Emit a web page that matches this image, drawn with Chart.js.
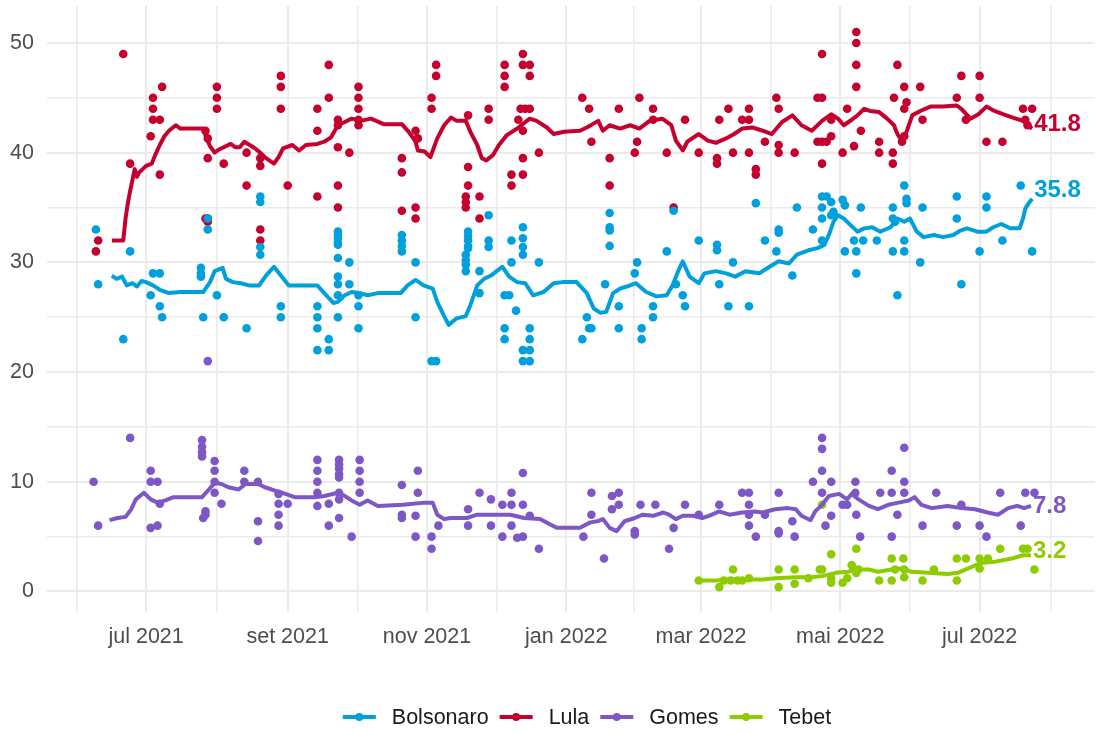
<!DOCTYPE html>
<html>
<head>
<meta charset="utf-8">
<script src="https://cdn.jsdelivr.net/npm/chart.js@4.4.0/dist/chart.umd.min.js"></script>
<style>
html,body{margin:0;padding:0;background:#ffffff;}
#wrap{width:1099px;height:733px;}
</style>
</head>
<body>
<div id="wrap"><canvas id="c" width="1099" height="733"></canvas></div>
<script>
// ---------------- DATA ----------------
// x values are days after DAY0
const DAY0 = '2021-07-01';
const seriesNames = ['Bolsonaro', 'Lula', 'Gomes', 'Tebet'];

const majorBreakDates = ['2021-07-01','2021-09-01','2021-11-01','2022-01-01','2022-03-01','2022-05-01','2022-07-01'];
const majorBreakLabels = ['jul 2021','set 2021','nov 2021','jan 2022','mar 2022','mai 2022','jul 2022'];
const outerBreakDates = ['2021-05-01','2022-09-01'];
const yTickValues = [0,5,10,15,20,25,30,35,40,45,50];
const yLabelValues = [0,10,20,30,40,50];

// individual polls: [day, value]
const bolsonaroPolls = [
[-22,33],[-21,28],[-10,23],[-7,31],[3,29],[6,29],[2,27],[6,26],[7,25],[25,25],[24,29.5],[24,29],[24,28.7],[27,34],[27,33],[31,27],[34,25],[44,24],[50,36],[50,35.5],[50,31.4],[50,30.7],[59,26],[59,25],[75,26],[75,25],[75,24],[75,22],[80,23],[80,22],
[84,32.8],[84,32.5],[84,32.2],[84,31.8],[84,31.6],[84,30.4],[84,28.7],[84,28],[84,27],[84,25],[89,30],[89,28],[93,27],[93,26],[93,24],
[112,32.5],[112,32],[112,31.5],[112,31],[118,30],[118,25],[125,21],[127,21],
[141,32.8],[141,32.4],[141,32],[141,31.5],[141,31.3],[140,30.7],[140,30.2],[140,29.8],[140,29.2],[146,29.2],[146,27.2],[150,34.3],[150,32],[150,31.4],[157,27],[159,27],[160,32],[162,25.6],[165,33.2],[165,32.2],[165,31.4],[165,30.7],[160,30],[157,24],[157,23],[168,24],[168,23],[168,22],[168,21],[165,22],[165,21],[172,30],[191,23],[193,25],
[194,24],[195,24],[201,28],[203,34.5],[203,33.2],[203,32.9],[203,31.5],[207,26],[207,24],[214,29],[215,30],[217,24],[217,23],[222,26],[222,25],[228,31],[231,34.7],[232,28],[235,27],[236,26],[242,32],
[250,31.6],[250,31.1],[251,28],[255,26],[257,30],[264,26],[267,35.4],[271,32],[276,31],[277,33],[277,32.7],[283,28.8],[285,35],[292,33],[296,36],[298,36],[296,35],[296,34],[296,32],[300,35.5],[301,34.6],[305,35.7],
[300,34.3],[306,35.2],[306,31],[311,31],[310,32],[311,29],[313,35],[314,32],[320,32],[327,35],[327,34],[328,33.7],[327,31],[329,27],[332,37],[333,35.8],[333,35.4],[332,32],[332,31],[339,30],[340,35],[355,34],[355,36],[357,28],[365,31],[368,36],[368,35],[375,32],[383,37],[388,31]
];
const lulaPolls = [
[-22,31],[-21,32],[-10,49],[-7,39],[2,41.5],[3,45],[3,44],[3,43],[6,43],[7,46],[6,38],
[26,34],[27,34],[27,33.7],[26,42],[27,41.3],[27,39.5],[31,46],[31,45],[31,44],[34,39],
[44,40],[44,37],[50,39.5],[50,38.8],[50,33],[50,32],[59,47],[59,46],[59,44],[62,37],
[75,44],[75,42],[75,36],[80,48],[80,45],
[84,43],[84,42.5],[84,40.5],[84,37],[84,35],[89,40],[93,46],[93,45],[93,44],[93,43],[93,42.5],
[112,39.5],[112,38.2],[112,34.7],[118,35],[118,34],[118,42],[119,41.3],[125,45],[125,44],[127,48],[127,47],
[141,43.4],[141,38.7],[141,37],[140,36],[140,35.5],[140,35],[146,36],[146,34],[150,44],[150,43],
[157,48],[157,47],[157,46],[160,38],[160,37],[165,49],[165,48],[168,48],[168,47],[164,44],[166,44],[168,44],[163,43],[165,42],[165,39.5],[165,38],[172,40],[191,45],
[194,44],[195,41],[203,39.5],[203,37],[207,44],[216,45],[215,41],[214,40],[222,44],[222,43],[228,40],[231,35],[236,43],[242,40],
[250,39.5],[250,39],[251,43],[255,44],[257,40],[261,43],[264,44],[264,43],[264,40],[267,38.5],[267,38],[271,41],[276,45],[277,44],[277,40.7],[277,40],[284,40],
[294,45],[296,45],[296,49],[294,41],[296,41],[298,41],[300,41.5],[296,39],[300,43],[305,40],
[311,51],[311,50],[311,48],[311,46],[307,44],[310,40.6],[313,42],[321,41],[321,40],[327,40],[327,39],[327.5,45],[329,48],[332,46],[333,44.6],[332,44],[331,41],[332,41.5],[339,46],[340,43],
[357,47],[355,45],[359,43],[365,47],[365,45],[368,41],[375,41],[384,44],[388,44],[385,43],[386,42.5]
];
const gomesPolls = [
[-23,10],[-21,6],[-7,14],[2,11],[2,10],[5,10],[2,5.8],[5,6],[6,8],[24.5,13.8],[24.5,13.2],[24.5,12.7],[24.5,12.3],[26,7.3],[25,6.7],[26,7],[27,21],[30,11.9],[30,11],[30,10],[30,9],[33,8],[43,11],[43,10],[49,10],[49,6.4],[49,4.6],[58,8.9],[58,8],[58,7],[58,6],[62,8],[75,12],[75,11],[75,10],[75,9],[75,7.8],[80,8],[80,6],[84.5,12],[84.5,11.6],[84.5,11.2],[84.5,10.7],[84.5,10.4],[84.5,9],[84.5,8.4],[84.5,6.7],[90,5],[93.5,12],[93.5,11],[93.5,10],[93.5,9],
[112,9.7],[112,7],[112,6.7],[119,11],[119,9],[118,6.9],[118,5],[125,5],[125,3.9],[128,6],[141,7.5],[141,6],[146,9],[151,8.4],[151,6],[156,7.9],[156,5],[160,9],[160,7.9],[160,6],[162.5,4.9],[165,5],[165,10.8],[165,7.9],[168,6.9],[172,3.9],[191.5,5],[195,9],[195,7],[200.5,3],[204,8.7],[204,7.5],[207,9],[207,7.9],[214,5.5],[214,5.2],[216.5,7.9],[223,7.9],[229,3.9],[231,5.8],[236,7.9],[242,7],
[251,7.9],[261,9],[264,9],[264,7.9],[264,7],[264,6],[267,5],[271,7],[277,9],[277,5.5],[277,5.3],[283,6.4],[284,5],[292,10],[296,14],[296,13],[296,11],[296,9],[297.5,6],[300,10],[300,6.9],[305,7.9],[307,7.9],[310.6,10],[310.6,9],[311,7],[312.7,5],[321.5,9],[326.5,11],[326.5,9],[326.5,5],[329,7],[332,13.1],[332,10],[332,9],[340,6],[346,9],[355,6],[357,7.9],[365,6],[368,5],[374,9],[383,6],[385,9],[389,9]
];
const tebetPolls = [
[242,1],[251,0.4],[253,1],[256,1],[257,2],[259,1],[261,1],[264,1.2],[277,2],[277,0.4],[284,2],[284,0.7],[290,1.2],[295,2],[296,2],[296,7.9],[300,3.4],[300,1.2],[300,0.8],[305,0.8],[307,1.2],[309,2.4],[311,3.9],[311,1.7],[312,2],[321,1],[326.5,3],[326.5,1],[328,2],[331.6,3],[332,2],[332,1.3],[340,1],[345,2],[355,3],[355,1],[359,3],[365,3],[365,2.1],[368.6,3],[374,3.9],[384,3.9],[386,3.9],[389,2]
];

// moving-average lines: [day, value]
const bolsonaroAvg = [
[-15,28.8],[-13,28.5],[-10.5,28.7],[-8.5,27.9],[-6,28.1],[-4,27.8],[-2,28.3],[0,28.2],[3,27.9],[6,27.5],[10,27.2],[15,27.3],[25,27.3],[28,28.2],[30,29.2],[33.5,29.5],[35,28.5],[38,28.2],[41.5,28.1],[45,27.9],[49.5,27.9],[52.5,28.8],[56,29.6],[59,28.8],[62.5,27.9],[67,27.9],[75,27.9],[78,27.2],[82,26.3],[84,26.4],[87,27],[90,27.3],[93.5,27.2],[97,27],[101.5,27.2],[111.5,27.2],[114.5,27.9],[118,28.4],[121.5,27.9],[125.5,27.6],[127.5,26.4],[130.5,25.1],[132.5,24.3],[136,24.9],[140,25.1],[142,26.1],[145,27.9],[148,28.5],[151,28.8],[153.5,29.2],[156,29.6],[159,28.7],[162.5,28.2],[166,28.1],[169.5,27],[174,27.3],[178.5,28.1],[182.5,28.2],[188.5,28.2],[193,27.2],[196,25.8],[199,25.4],[201.5,25.5],[204.5,27.2],[207.5,27.6],[210.5,27.8],[214.5,28.1],[219,27.3],[223.5,26.9],[228,27],[230.5,27.9],[233,29.2],[235,30.1],[238,28.7],[242,28.1],[244.5,29],[249.5,29.2],[254,29],[258,28.7],[262.5,29.2],[268.5,29],[273,29.6],[277,30.1],[281.5,29.9],[285,30.7],[290,31.1],[294,31.3],[297,31.6],[299,32.5],[301,33.7],[303,34.3],[305.5,34],[308.5,33.4],[311.5,32.8],[314.5,33.1],[318,33.2],[321.5,32.8],[326,33.2],[329,34],[332,33.7],[334.5,34],[337.5,32.8],[340.5,32.3],[345,32.5],[349,32.3],[353.5,32.5],[356.5,32.9],[359.5,33.1],[364,32.8],[368,32.8],[371,33.2],[374.5,33.5],[378.5,33.1],[382.5,33.1],[384,34],[385,34.9],[386.5,35.4],[388,35.8]
];
const lulaAvg = [
[-15,32],[-10,32],[-9,34],[-8,35.4],[-7,36.5],[-6,37.5],[-5,38.5],[-4,37.8],[-3,38.2],[0,38.8],[2.5,39],[4,39.8],[6,40.7],[8,41.5],[10,42],[13,42.5],[15,42.2],[25,42.2],[26.5,41.3],[28,40.6],[30,40],[32,40.3],[34,40.5],[37,40.8],[39,40.5],[41,40.5],[43,41],[47,40.5],[50,40],[52.5,39.5],[56,39],[58,39.6],[60,40.4],[64,40.7],[67,40.2],[70,40.7],[75,40.8],[78,41],[81,41.4],[84,42.5],[87,42.8],[90,43.1],[94,42.9],[98.5,43.1],[104,42.6],[112,42.6],[115,41.9],[118,41],[119,40.2],[122,40.1],[124.5,39.6],[127.5,41.3],[130.5,42.5],[133.5,43.2],[136,42.9],[140,42.9],[142,41.9],[145,40.7],[147,39.5],[149,39.3],[152,39.8],[154.5,40.7],[158,41.6],[162.5,42.2],[168,43.1],[171,42.9],[175.5,42.3],[178.5,41.7],[183,41.9],[190,42],[193,42.3],[198,42.9],[200,42],[203,42.5],[207.5,42.2],[212,42.5],[216,42.2],[220.5,42.9],[226,43.1],[230,42.5],[232,41.1],[235,40.2],[237,41],[242,41.7],[246,41.1],[249.5,40.9],[254,41.3],[257.5,41.7],[261,42.2],[265.5,42.3],[270,42],[274,41.7],[278.5,42.8],[283,43.4],[287,42.5],[291.5,42],[296,42.9],[300,43.5],[303,43.1],[305.5,42.5],[309,43],[311.5,43.4],[314.5,44],[317,43.8],[321,43.7],[324.5,43.1],[327.5,42.5],[329,41.7],[331,41.1],[333,41.9],[335.5,43.4],[339,43.8],[343.5,44.2],[349,44.2],[355,44.3],[357,44],[361,43.1],[364.5,43.5],[368,44.2],[371.5,43.8],[375.5,43.5],[379.5,43.2],[384,42.9],[386,42.5],[388,42.2]
];
const gomesAvg = [
[-16,6.5],[-12.5,6.7],[-9,6.8],[-6.5,7.5],[-4.5,8.4],[-1,9],[2,8.4],[5,8.1],[8.5,8.3],[12,8.6],[16,8.6],[24.5,8.6],[27.5,9.3],[30,9.9],[33,9.8],[36,9.5],[40.5,9.3],[43.5,9.8],[49,9.8],[52,9.5],[56.5,9.2],[61,8.9],[65,8.6],[74,8.6],[78,8.7],[84,9],[87,8.7],[90,8.3],[93.5,7.9],[97,8.3],[101.5,7.8],[112.5,7.9],[122,8.1],[125.5,8.1],[127.5,7],[130.5,6.6],[133.5,6.7],[140.5,6.7],[145,7],[151,7],[159.5,7],[165.5,6.7],[172.5,6.6],[177,6.1],[180,5.8],[190,5.8],[194.5,6.3],[197.5,6.4],[200,6.6],[203,5.8],[206,5.5],[209.5,6.4],[214,6.7],[217.5,7],[222,6.9],[226.5,7.2],[229,7],[232,6.6],[235,6.9],[239.5,6.9],[243.5,6.7],[246.5,6.9],[251,7.3],[255.5,7],[261,7.2],[266.5,7.3],[270,7.2],[275.5,7.5],[281,7.6],[284.5,7.5],[287,6.9],[291,6.5],[293,7.3],[296,7.9],[299,8.7],[303.5,8.9],[307,8.4],[309,8.9],[312,8.4],[316.5,7.8],[320.5,7.5],[325,7.9],[329.5,8.1],[334,8.3],[336.5,8.6],[339.5,7.9],[344,7.6],[351,7.8],[357,7.6],[363,7.5],[368.5,7.2],[373,7],[377.5,7.6],[381.5,7.8],[384.5,7.6],[387.5,7.8]
];
const tebetAvg = [
[242,1],[249.5,1],[255.5,1.1],[270,1.1],[275.5,1.2],[284.5,1.3],[291.5,1.3],[296,1.4],[302,1.7],[307.5,1.8],[310.5,2],[316.5,2],[320.5,1.8],[326.5,2],[331,2.1],[335,1.8],[342.5,1.7],[351,1.6],[355.5,1.7],[360,2.1],[365.5,2.6],[371.5,2.7],[379,3],[384,3.3],[387.5,3.3]
];

// end-of-line labels: text and vertical anchor (data units)
const endLabelText = ['35.8', '41.8', '7.8', '3.2'];
const endLabelValue = [36.6, 42.6, 7.8, 3.7];

// ---------------- STYLE ----------------
const COLORS = ['#00A0DD', '#C5002E', '#7D57C6', '#8DCC00'];
const FAMILY = "'Liberation Sans', Arial, Helvetica, sans-serif";
const TICK_FONT = 21.5;
const X_MIN = -43.4, X_MAX = 415.4;
const Y_MIN = -1.87, Y_MAX = 53.37;

const pollSets = [bolsonaroPolls, lulaPolls, gomesPolls, tebetPolls];
const avgSets = [bolsonaroAvg, lulaAvg, gomesAvg, tebetAvg];

function dayOf(s) {
  return (Date.parse(s + 'T00:00:00Z') - Date.parse(DAY0 + 'T00:00:00Z')) / 86400000;
}
const majorDays = majorBreakDates.map(dayOf);
const allBreaks = [dayOf(outerBreakDates[0])].concat(majorDays, [dayOf(outerBreakDates[1])]);
const minorDays = [];
for (let i = 0; i < allBreaks.length - 1; i++) minorDays.push((allBreaks[i] + allBreaks[i + 1]) / 2);
const xTickDays = majorDays.concat(minorDays).filter(v => v >= X_MIN && v <= X_MAX).sort((a, b) => a - b);

const toXY = arr => arr.map(p => ({x: p[0], y: p[1]}));

const datasets = [];
avgSets.forEach((arr, i) => {
  datasets.push({
    type: 'line', label: seriesNames[i] + ' avg', data: toXY(arr),
    borderColor: COLORS[i], backgroundColor: COLORS[i], borderWidth: 4,
    pointRadius: 0, pointHoverRadius: 0, tension: 0, fill: false,
    borderJoinStyle: 'round', borderCapStyle: 'butt', order: 1
  });
});
pollSets.forEach((arr, i) => {
  datasets.push({
    type: 'scatter', label: seriesNames[i], data: toXY(arr),
    backgroundColor: COLORS[i], borderColor: COLORS[i], pointRadius: 4.3,
    pointBorderWidth: 0, pointHoverRadius: 4.3, showLine: false, order: 2
  });
});

const endLabelPlugin = {
  id: 'endLabels',
  afterDatasetsDraw(chart) {
    const ctx = chart.ctx, xs = chart.scales.x, ys = chart.scales.y;
    ctx.save();
    ctx.font = 'bold 24px ' + FAMILY;
    ctx.textAlign = 'left';
    ctx.textBaseline = 'middle';
    avgSets.forEach((arr, i) => {
      const last = arr[arr.length - 1];
      ctx.fillStyle = COLORS[i];
      ctx.fillText(endLabelText[i], xs.getPixelForValue(last[0]) + 2, ys.getPixelForValue(endLabelValue[i]));
    });
    ctx.restore();
  }
};

const legendPlugin = {
  id: 'bottomLegend',
  afterDraw(chart) {
    const ctx = chart.ctx;
    ctx.save();
    ctx.font = TICK_FONT + 'px ' + FAMILY;
    const keyW = 33, keyGap = 16, itemGap = 11, cx = 587, y = 718;
    const widths = seriesNames.map(n => ctx.measureText(n).width);
    const total = widths.reduce((a, w) => a + keyW + keyGap + w, 0) + itemGap * (seriesNames.length - 1);
    let x = cx - total / 2;
    seriesNames.forEach((n, i) => {
      ctx.strokeStyle = COLORS[i];
      ctx.lineWidth = 4;
      ctx.beginPath();
      ctx.moveTo(x, y - 1);
      ctx.lineTo(x + keyW, y - 1);
      ctx.stroke();
      ctx.fillStyle = COLORS[i];
      ctx.beginPath();
      ctx.arc(x + keyW / 2, y - 1, 4, 0, Math.PI * 2);
      ctx.fill();
      ctx.fillStyle = '#1a1a1a';
      ctx.textAlign = 'left';
      ctx.textBaseline = 'middle';
      ctx.fillText(n, x + keyW + keyGap, y);
      x += keyW + keyGap + widths[i] + itemGap;
    });
    ctx.restore();
  }
};

function clearPadding(s) {
  s.paddingTop = 0; s.paddingBottom = 0; s.paddingLeft = 0; s.paddingRight = 0;
}

new Chart(document.getElementById('c'), {
  type: 'scatter',
  data: {datasets},
  options: {
    responsive: false,
    devicePixelRatio: 1,
    animation: false,
    events: [],
    layout: {padding: {top: 6, right: 0, bottom: 0, left: 0}},
    plugins: {legend: {display: false}, tooltip: {enabled: false}, title: {display: false}},
    scales: {
      x: {
        type: 'linear', min: X_MIN, max: X_MAX,
        afterBuildTicks: s => { s.ticks = xTickDays.map(v => ({value: v})); },
        afterFit: s => { s.height = 121; clearPadding(s); },
        ticks: {
          autoSkip: false, maxRotation: 0, minRotation: 0, padding: 12,
          color: '#4d4d4d', font: {family: FAMILY, size: TICK_FONT},
          callback: v => { const k = majorDays.indexOf(v); return k >= 0 ? majorBreakLabels[k] : ''; }
        },
        grid: {
          drawTicks: false, color: '#ebebeb',
          lineWidth: c => (c.tick && majorDays.indexOf(c.tick.value) >= 0) ? 2 : 1.6
        },
        border: {display: false}
      },
      y: {
        type: 'linear', min: Y_MIN, max: Y_MAX,
        afterBuildTicks: s => { s.ticks = yTickValues.map(v => ({value: v})); },
        afterFit: s => { s.width = 47; clearPadding(s); },
        ticks: {
          padding: 13, color: '#4d4d4d', font: {family: FAMILY, size: TICK_FONT},
          callback: v => yLabelValues.indexOf(v) >= 0 ? String(v) : ''
        },
        grid: {
          drawTicks: false, color: '#ebebeb',
          lineWidth: c => (c.tick && yLabelValues.indexOf(c.tick.value) >= 0) ? 2 : 1.6
        },
        border: {display: false}
      }
    }
  },
  plugins: [endLabelPlugin, legendPlugin]
});
</script>
</body>
</html>
